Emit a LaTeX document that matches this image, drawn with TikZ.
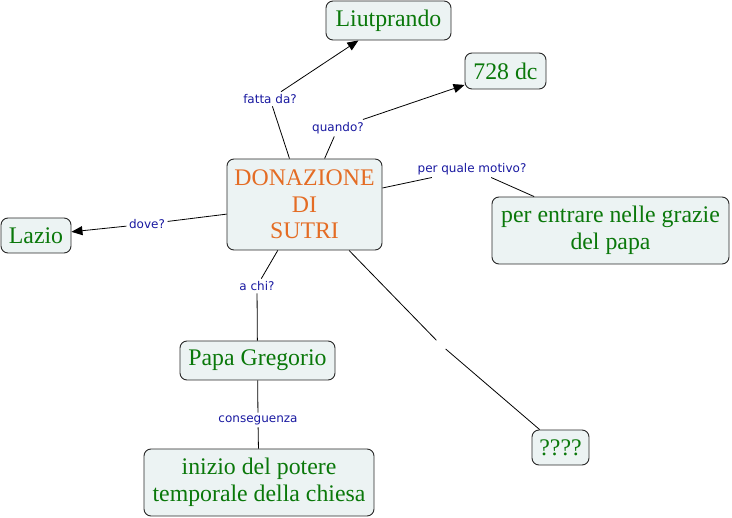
\documentclass[tikz,border=0pt]{standalone}
\usepackage{fontspec}
\setmainfont{Liberation Serif}
\newfontfamily\labelfont{DejaVu Sans}
\usetikzlibrary{arrows.meta}
\definecolor{cgreen}{RGB}{10,120,10}
\definecolor{corange}{RGB}{228,108,36}
\definecolor{cblue}{RGB}{24,24,160}
\definecolor{cfill}{RGB}{236,243,243}
\definecolor{cborder}{RGB}{40,40,40}
\tikzset{
  concept/.style={draw=cborder, line width=0.9pt, fill=cfill, rounded corners=7pt,
    text=cgreen, align=center, inner sep=0pt,
    font=\fontsize{23.8}{26.5}\selectfont},
  linklabel/.style={text=cblue, inner sep=2.5pt, font=\labelfont\fontsize{12}{14}\selectfont},
  emptylabel/.style={inner sep=0pt, minimum width=9pt, minimum height=9pt},
  link/.style={draw=black, line width=0.8pt},
  arrowlink/.style={link, -{Triangle[length=11pt,width=9pt]}}
}
\begin{document}
\begin{tikzpicture}[x=1pt,y=-1pt]
\useasboundingbox (0,0) rectangle (732,518);
% concepts
\node[concept, minimum width=125pt, minimum height=39pt] (liut) at (388.5,20.5) {Liutprando};
\node[concept, minimum width=81pt, minimum height=36pt] (dc) at (505.5,71) {728 dc};
\node[concept, minimum width=155pt, minimum height=91pt, text=corange] (don) at (304.5,204.5) {DONAZIONE\\DI\\SUTRI};
\node[concept, minimum width=237pt, minimum height=67pt] (grazie) at (610.5,230.5) {per entrare nelle grazie\\del papa};
\node[concept, minimum width=70pt, minimum height=35pt] (lazio) at (36,235.5) {Lazio};
\node[concept, minimum width=155pt, minimum height=39pt] (papa) at (257.5,360.5) {Papa Gregorio};
\node[concept, minimum width=230pt, minimum height=67pt] (inizio) at (259,482.5) {inizio del potere\\temporale della chiesa};
\node[concept, minimum width=57pt, minimum height=35pt] (qq) at (560.5,447.5) {????};
% link labels
\node[linklabel] (fatta) at (270,99) {fatta da?};
\node[linklabel] (quando) at (338,128) {quando?};
\node[linklabel] (motivo) at (472,169) {per quale motivo?};
\node[linklabel] (dove) at (147,224) {dove?};
\node[linklabel] (achi) at (257,286) {a chi?};
\node[linklabel] (cons) at (258,420) {conseguenza};
\node[emptylabel] (vuoto) at (441,345) {};
% connectors
\draw[link] (don) -- (fatta);
\draw[arrowlink] (fatta) -- (liut);
\draw[link] (don) -- (quando);
\draw[arrowlink] (quando) -- (dc);
\draw[link] (don) -- (motivo);
\draw[link] (motivo) -- (grazie);
\draw[link] (don) -- (dove);
\draw[arrowlink] (dove) -- (lazio);
\draw[link] (don) -- (achi);
\draw[link] (achi) -- (papa);
\draw[link] (papa) -- (cons);
\draw[link] (cons) -- (inizio);
\draw[link] (don) -- (vuoto);
\draw[link] (vuoto) -- (qq);
\end{tikzpicture}
\end{document}
